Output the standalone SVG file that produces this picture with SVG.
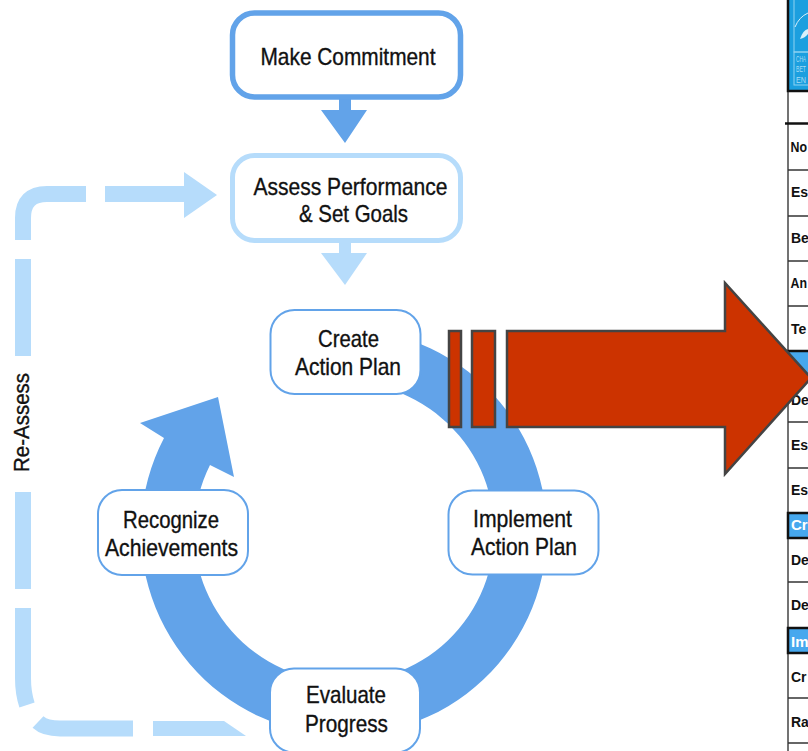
<svg xmlns="http://www.w3.org/2000/svg" width="808" height="751" viewBox="0 0 808 751">
<style>
.lbl{font-family:"Liberation Sans",Arial,sans-serif;font-size:24px;fill:#111;stroke:#111;stroke-width:.35;text-anchor:middle}
.box{fill:#fff;stroke:#62a3e9;stroke-width:2}
.dash{fill:none;stroke:#b6dcfb;stroke-width:16}
.lt{fill:#b6dcfb}
.dk{fill:#62a3e9}
.red{fill:#cc3300;stroke:#444;stroke-width:2.5}
.row{stroke:#333;stroke-width:1.5}
.cell{font-family:"Liberation Sans",Arial,sans-serif;font-size:14px;font-weight:bold;fill:#111}
.hd{fill:#46a8ee;stroke:#111;stroke-width:2.5}
.hdt{font-family:"Liberation Sans",Arial,sans-serif;font-size:15px;font-weight:bold;fill:#fff}
.logo{font-family:"Liberation Sans",Arial,sans-serif;font-size:9px;fill:#a8dcf5}
</style>
<rect width="808" height="751" fill="#fff"/>
<g id="document-table">
<rect x="788" y="0" width="22" height="751" fill="#fff"/>
<line x1="788" y1="91" x2="788" y2="751" stroke="#444" stroke-width="1.5"/>
<line x1="785" y1="123.500" x2="808" y2="123.500" stroke="#111" stroke-width="2.5"/>
<line class="row" x1="788" y1="170" x2="808" y2="170"/>
<line class="row" x1="788" y1="216" x2="808" y2="216"/>
<line class="row" x1="788" y1="261" x2="808" y2="261"/>
<line class="row" x1="788" y1="306" x2="808" y2="306"/>
<line class="row" x1="788" y1="422" x2="808" y2="422"/>
<line class="row" x1="788" y1="468" x2="808" y2="468"/>
<line class="row" x1="788" y1="582" x2="808" y2="582"/>
<line class="row" x1="788" y1="698" x2="808" y2="698"/>
<line class="row" x1="788" y1="743" x2="808" y2="743"/>
<rect class="hd" x="788" y="351" width="24" height="26"/>
<rect class="hd" x="788" y="513" width="24" height="25"/>
<rect class="hd" x="788" y="628" width="24" height="25"/>
<text class="cell" x="790.500" y="152" textLength="16.500" lengthAdjust="spacingAndGlyphs">No</text>
<text class="cell" x="791" y="197">Es</text>
<text class="cell" x="791" y="243">Be</text>
<text class="cell" x="790.500" y="288" textLength="16.500" lengthAdjust="spacingAndGlyphs">An</text>
<text class="cell" x="791" y="334">Te</text>
<text class="cell" x="791" y="405">De</text>
<text class="cell" x="791" y="450">Es</text>
<text class="cell" x="791" y="495">Es</text>
<text class="hdt" x="791" y="530">Cr</text>
<text class="cell" x="791" y="565">De</text>
<text class="cell" x="791" y="610">De</text>
<text class="hdt" x="791" y="647">Im</text>
<text class="cell" x="791" y="682">Cr</text>
<text class="cell" x="791" y="727">Ra</text>
</g>
<g id="logo">
<rect x="788" y="-3" width="24" height="94" fill="#1c9fdf" stroke="#111" stroke-width="2.500"/>
<rect x="794" y="-3" width="20" height="55" fill="none" stroke="#8fd3f2" stroke-width="1"/>
<rect x="794" y="52" width="20" height="33" fill="none" stroke="#8fd3f2" stroke-width="1"/>
<path d="M795,27 Q799,17 808,13" fill="none" stroke="#d8f0fb" stroke-width="1"/>
<path d="M800,39 Q803,30 808,29 L808,34 Q805,38 800,39Z" fill="#d8f0fb"/>
<text class="logo" x="796" y="62" textLength="10" lengthAdjust="spacingAndGlyphs">CHA</text>
<text class="logo" x="796" y="72" textLength="10" lengthAdjust="spacingAndGlyphs">BET</text>
<text class="logo" x="796" y="83" textLength="10" lengthAdjust="spacingAndGlyphs">EN</text>
</g>
<g id="connectors">
<path class="dk" d="M346,329 A203,203 0 1 1 164,438 L140,423 L218,397 L234,477 L210,465 A150,150 0 1 0 346,382 Z"/>
<path class="dk" d="M339,98 H351 V110 H367 L345,143 L321,110 H339 Z"/>
<path class="lt" d="M339,241 H351 V253 H367 L345,285 L321,253 H339 Z"/>
<path class="dash" d="M23,240 V218 Q23,194 47,194 H86"/>
<path class="lt" d="M105,186 H184 V172 L217,195 L184,218 V202 H105 Z"/>
<path class="dash" d="M23,259 V356 M23,492 V589"/>
<path class="dash" d="M23,608 V678 Q23,693 27,705"/>
<path class="dash" d="M38,722 Q45,728.500 60,728.500 H133"/>
<polygon class="lt" points="153,721 224,721 246,736 153,736"/>
</g>
<text id="re-assess" class="lbl" transform="translate(29,422.500) rotate(-90)" style="font-size:22px" textLength="99" lengthAdjust="spacingAndGlyphs">Re-Assess</text>
<g id="make-commitment">
<rect x="232.500" y="13" width="228" height="84" rx="22" fill="#fff" stroke="#62a3e9" stroke-width="5.500"/>
<text class="lbl" x="348" y="65" textLength="175" lengthAdjust="spacingAndGlyphs">Make Commitment</text>
</g>
<g id="assess-performance">
<rect x="232.500" y="155.500" width="228" height="85" rx="22" fill="#fff" stroke="#b6dcfb" stroke-width="5"/>
<text class="lbl" x="350.500" y="195" textLength="194" lengthAdjust="spacingAndGlyphs">Assess Performance</text>
<text class="lbl" x="353.500" y="222" textLength="109" lengthAdjust="spacingAndGlyphs">&amp; Set Goals</text>
</g>
<g id="create-action-plan">
<rect class="box" x="270.500" y="310" width="150" height="84" rx="24"/>
<text class="lbl" x="348.500" y="347" textLength="61" lengthAdjust="spacingAndGlyphs">Create</text>
<text class="lbl" x="348" y="375" textLength="106" lengthAdjust="spacingAndGlyphs">Action Plan</text>
</g>
<g id="implement-action-plan">
<rect class="box" x="448.500" y="490.500" width="150" height="84" rx="24"/>
<text class="lbl" x="522.500" y="527" textLength="99" lengthAdjust="spacingAndGlyphs">Implement</text>
<text class="lbl" x="524" y="555" textLength="106" lengthAdjust="spacingAndGlyphs">Action Plan</text>
</g>
<g id="recognize-achievements">
<rect class="box" x="98" y="490" width="150" height="85" rx="24"/>
<text class="lbl" x="171" y="528" textLength="96" lengthAdjust="spacingAndGlyphs">Recognize</text>
<text class="lbl" x="171.500" y="556" textLength="133" lengthAdjust="spacingAndGlyphs">Achievements</text>
</g>
<g id="evaluate-progress">
<rect class="box" x="270" y="668.500" width="150" height="84" rx="24"/>
<text class="lbl" x="346" y="703" textLength="80" lengthAdjust="spacingAndGlyphs">Evaluate</text>
<text class="lbl" x="346.500" y="732" textLength="83" lengthAdjust="spacingAndGlyphs">Progress</text>
</g>
<g id="red-arrow">
<rect class="red" x="449" y="331" width="12" height="96"/>
<rect class="red" x="472" y="331" width="23" height="96"/>
<path class="red" d="M507,331 H725 V283 L811,378 L725,474 V427 H507 Z"/>
</g>
</svg>
